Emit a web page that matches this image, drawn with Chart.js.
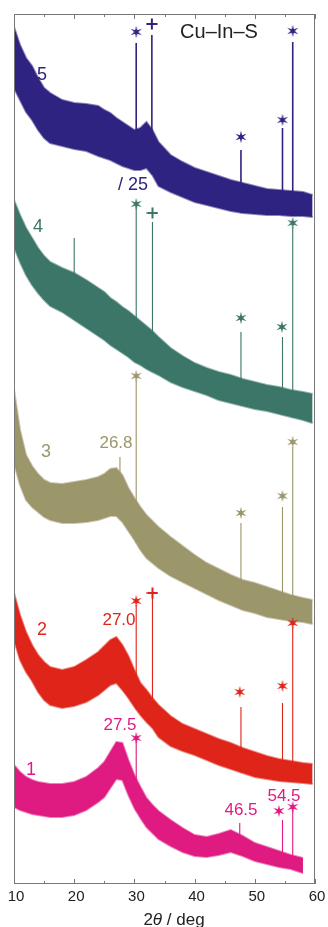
<!DOCTYPE html>
<html>
<head>
<meta charset="utf-8">
<script src="https://cdn.jsdelivr.net/npm/chart.js@4.4.1/dist/chart.umd.min.js"></script>
<style>
    html, body { margin: 0; padding: 0; background: #fff; }
    canvas { display: block; }
</style>
</head>
<body>
<canvas id="xrdChart" width="328" height="927"></canvas>
<script>
// 2theta grid (deg) where the noise band of every pattern was read
const angles = [10, 11, 12, 13, 14, 15, 16, 18, 20, 22, 24, 25, 26, 27, 28, 29, 30, 31, 32, 33,
    34, 36, 38, 40, 42, 44, 46, 48, 50, 52, 54, 56, 58, 59.6];
const xTicks = [10, 20, 30, 40, 50, 60];
const xMinorTicks = [15, 25, 35, 45, 55];

// Pattern 5 (offset, arbitrary units): top and bottom of the noise band
const upper5 = [857, 839, 826, 818, 806, 796, 791, 784, 781, 780, 778, 774, 771, 766, 762, 758, 754, 756, 762, 754,
    742, 729, 722, 716, 712, 708, 704, 701, 698, 695, 694, 693, 692, 689];
const lower5 = [796, 784, 772, 764, 754, 746, 741, 738, 735, 733, 728, 726, 724, 721, 718, 716, 714, 714, 716, 709,
    698, 692, 687, 682, 679, 676, 673, 671, 670, 669, 669, 668, 668, 667];

// Pattern 4
const upper4 = [684, 669, 656, 646, 636, 628, 622, 616, 611, 604, 596, 592, 586, 582, 577, 573, 568, 563, 558, 553,
    547, 536, 528, 521, 516, 512, 509, 505, 502, 499, 497, 494, 492, 490];
const lower4 = [637, 622, 609, 599, 591, 584, 578, 572, 564, 556, 548, 544, 539, 535, 531, 527, 522, 519, 515, 512,
    509, 502, 497, 493, 489, 484, 481, 478, 475, 473, 470, 467, 464, 461];

// Pattern 3
const upper3 = [494, 454, 429, 418, 410, 404, 401, 400, 402, 404, 407, 410, 415, 416, 409, 396, 386, 377, 369, 363,
    357, 347, 338, 329, 321, 315, 309, 304, 301, 297, 293, 289, 286, 284];
const lower3 = [421, 399, 384, 377, 372, 367, 364, 361, 361, 362, 364, 366, 368, 368, 362, 353, 344, 334, 326, 321,
    316, 308, 302, 296, 290, 284, 279, 274, 271, 267, 265, 263, 262, 260];

// Pattern 2
const upper2 = [291, 269, 252, 239, 229, 222, 217, 214, 217, 224, 232, 238, 244, 247, 239, 228, 214, 201, 194, 186,
    179, 168, 160, 155, 150, 145, 141, 136, 132, 128, 125, 123, 121, 120];
const lower2 = [244, 224, 212, 203, 192, 184, 179, 176, 178, 182, 189, 194, 199, 201, 194, 186, 177, 169, 162, 156,
    147, 138, 133, 129, 124, 119, 115, 111, 107, 105, 103, 102, 101, 100];

// Pattern 1 (stops near 58.3 deg)
const upper1 = [119, 112, 107, 104, 102, 101, 100, 100, 102, 107, 116, 122, 132, 142, 141, 124, 109, 97, 86, 79,
    73, 64, 56, 49, 47, 50, 54, 48, 41, 37, 33, 29, 26, null];
const lower1 = [77, 74, 72, 70, 69, 68, 67, 67, 69, 74, 82, 87, 96, 105, 104, 89, 76, 66, 57, 51,
    45, 38, 32, 28, 27, 29, 32, 28, 23, 20, 17, 15, 11, null];

// sharp reflections: [2theta, top of the line]
const peaks5 = [[30.3, 841], [32.9, 849], [47.7, 734], [54.6, 756], [56.3, 842]];
const peaks4 = [[20.0, 646], [30.3, 677], [33.0, 662], [47.7, 552], [54.6, 547], [56.3, 657]];
const peaks3 = [[27.6, 427], [30.3, 504], [47.7, 361], [54.6, 377], [56.3, 437]];
const peaks2 = [[30.3, 279], [33.0, 289], [47.7, 177], [54.6, 181], [56.3, 257]];
const peaks1 = [[30.3, 147], [47.5, 61], [54.6, 64], [56.3, 74]];

// phase markers: [2theta, height]
const stars5 = [[30.3, 852], [47.7, 747], [54.6, 764], [56.3, 853]];
const plus5 = [[32.9, 860]];
const stars4 = [[30.3, 680], [47.7, 566], [54.5, 557], [56.3, 661]];
const plus4 = [[33.0, 671]];
const stars3 = [[30.3, 508], [47.7, 371], [54.6, 388], [56.3, 442]];
const plus3 = [];
const stars2 = [[30.3, 283], [47.5, 192], [54.6, 198], [56.3, 261]];
const plus2 = [[33.0, 291]];
const stars1 = [[30.3, 146], [54.0, 73], [56.3, 77]];
const plus1 = [];

const colors = ['#df1a80', '#df2419', '#9c966b', '#3b7668', '#2e2380'];

// text on the plot, pixel positions
const notes = [
    { text: 'Cu\u2013In\u2013S', x: 219, y: 32, color: '#222', size: 20 },
    { text: '5', x: 42, y: 75, color: colors[4], size: 18 },
    { text: '/ 25', x: 133, y: 185, color: colors[4], size: 18 },
    { text: '4', x: 38, y: 227, color: colors[3], size: 18 },
    { text: '3', x: 46, y: 452, color: colors[2], size: 18 },
    { text: '26.8', x: 116, y: 443, color: colors[2], size: 17 },
    { text: '2', x: 42, y: 630, color: colors[1], size: 18 },
    { text: '27.0', x: 119, y: 620, color: colors[1], size: 17 },
    { text: '1', x: 31, y: 770, color: colors[0], size: 18 },
    { text: '27.5', x: 120, y: 725, color: colors[0], size: 17 },
    { text: '46.5', x: 241, y: 810, color: colors[0], size: 17 },
    { text: '54.5', x: 284, y: 796, color: colors[0], size: 17 }
];

const FONT = '"Liberation Sans", Arial, sans-serif';

function withAlpha(hex, a) {
    const n = parseInt(hex.slice(1), 16);
    return 'rgba(' + (n >> 16) + ',' + ((n >> 8) & 255) + ',' + (n & 255) + ',' + a + ')';
}

function makeStar(color) {
    const c = document.createElement('canvas');
    c.width = 14; c.height = 14;
    const g = c.getContext('2d');
    g.fillStyle = color;
    g.beginPath();
    for (let i = 0; i < 12; i++) {
        const r = i % 2 === 0 ? 6.3 : 2.1;
        const a = -Math.PI / 2 + i * Math.PI / 6;
        g.lineTo(7 + r * Math.cos(a), 7 + r * Math.sin(a));
    }
    g.closePath();
    g.fill();
    return c;
}

function makePlus(color) {
    const c = document.createElement('canvas');
    c.width = 12; c.height = 12;
    const g = c.getContext('2d');
    g.strokeStyle = color;
    g.lineWidth = 2;
    g.beginPath();
    g.moveTo(0.5, 6); g.lineTo(11.5, 6);
    g.moveTo(6, 0.5); g.lineTo(6, 11.5);
    g.stroke();
    return c;
}

function lowerAt(lower, x) {
    for (let i = 0; i < angles.length - 1; i++) {
        if (x >= angles[i] && x <= angles[i + 1] && lower[i + 1] != null) {
            const t = (x - angles[i]) / (angles[i + 1] - angles[i]);
            return lower[i] + t * (lower[i + 1] - lower[i]);
        }
    }
    return lower[0];
}

const patterns = [
    { upper: upper1, lower: lower1, peaks: peaks1, stars: stars1, plus: plus1 },
    { upper: upper2, lower: lower2, peaks: peaks2, stars: stars2, plus: plus2 },
    { upper: upper3, lower: lower3, peaks: peaks3, stars: stars3, plus: plus3 },
    { upper: upper4, lower: lower4, peaks: peaks4, stars: stars4, plus: plus4 },
    { upper: upper5, lower: lower5, peaks: peaks5, stars: stars5, plus: plus5 }
];

const datasets = [];
patterns.forEach(function (p, k) {
    const col = colors[k];
    const toPts = arr => arr.map((v, i) => ({ x: angles[i], y: v }));
    datasets.push({
        data: toPts(p.lower),
        borderColor: withAlpha(col, 0.55),
        borderWidth: 2,
        pointRadius: 0,
        fill: false
    });
    datasets.push({
        data: toPts(p.upper),
        borderColor: withAlpha(col, 0.55),
        borderWidth: 2,
        pointRadius: 0,
        backgroundColor: col,
        fill: '-1'
    });
    const lines = [];
    p.peaks.forEach(function (pk) {
        lines.push({ x: pk[0], y: lowerAt(p.lower, pk[0]) });
        lines.push({ x: pk[0], y: pk[1] });
        lines.push({ x: pk[0], y: null });
    });
    datasets.push({
        data: lines,
        borderColor: col,
        borderWidth: k === 4 ? 1.6 : 1.1,
        pointRadius: 0,
        spanGaps: false,
        fill: false
    });
    datasets.push({
        data: p.stars.map(s => ({ x: s[0], y: s[1] })),
        showLine: false,
        pointStyle: makeStar(col),
        pointRadius: 5,
        fill: false
    });
    datasets.push({
        data: p.plus.map(s => ({ x: s[0], y: s[1] })),
        showLine: false,
        pointStyle: makePlus(col),
        pointRadius: 5,
        fill: false
    });
});

// frame, inward ticks, tick labels, axis title, annotations
const decorations = {
    id: 'decorations',
    afterDraw(chart) {
        const ctx = chart.ctx;
        const a = chart.chartArea;
        const xs = chart.scales.x;
        ctx.save();
        ctx.strokeStyle = '#777';
        ctx.lineWidth = 1;
        ctx.strokeRect(a.left + 0.5, a.top + 0.5, a.right - a.left - 1, a.bottom - a.top - 1);
        ctx.beginPath();
        xTicks.concat(xMinorTicks).forEach(function (v) {
            const len = xTicks.includes(v) ? 5 : 3;
            const px = Math.round(xs.getPixelForValue(v)) + 0.5;
            ctx.moveTo(px, a.bottom); ctx.lineTo(px, a.bottom - len);
            ctx.moveTo(px, a.top); ctx.lineTo(px, a.top + len);
        });
        ctx.stroke();

        ctx.fillStyle = '#222';
        ctx.font = '15px ' + FONT;
        ctx.textAlign = 'center';
        ctx.textBaseline = 'middle';
        xTicks.forEach(function (v) {
            ctx.fillText(String(v), xs.getPixelForValue(v) + 2, 897);
        });

        // axis title: 2θ / deg with italic theta
        const parts = [['2', ''], ['\u03b8', 'italic '], [' / deg', '']];
        ctx.textAlign = 'left';
        ctx.textBaseline = 'alphabetic';
        let total = 0;
        parts.forEach(function (pt) { ctx.font = pt[1] + '17px ' + FONT; total += ctx.measureText(pt[0]).width; });
        let x = 174 - total / 2;
        parts.forEach(function (pt) {
            ctx.font = pt[1] + '17px ' + FONT;
            ctx.fillText(pt[0], x, 925);
            x += ctx.measureText(pt[0]).width;
        });

        ctx.textAlign = 'center';
        ctx.textBaseline = 'middle';
        notes.forEach(function (n) {
            ctx.font = n.size + 'px ' + FONT;
            ctx.fillStyle = n.color;
            ctx.fillText(n.text, n.x, n.y);
        });
        ctx.restore();
    }
};

new Chart(document.getElementById('xrdChart'), {
    type: 'line',
    data: { datasets: datasets },
    options: {
        responsive: false,
        animation: false,
        layout: { padding: { left: 14, top: 14, right: 13, bottom: 43 } },
        elements: { line: { tension: 0 } },
        scales: {
            x: { type: 'linear', min: 10, max: 60, display: false },
            y: { type: 'linear', min: 0, max: 870, display: false }
        },
        plugins: {
            legend: { display: false },
            tooltip: { enabled: false }
        }
    },
    plugins: [decorations]
});
</script>
</body>
</html>
